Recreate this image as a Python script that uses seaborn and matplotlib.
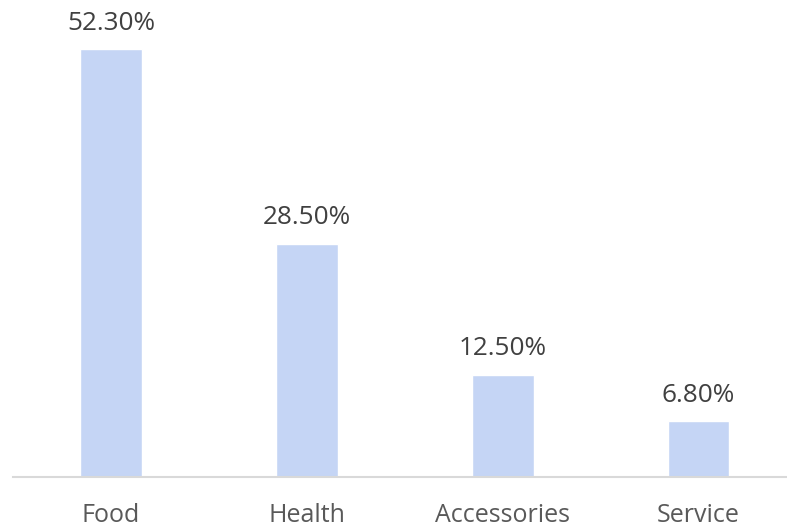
import matplotlib
matplotlib.use("Agg")
import matplotlib.pyplot as plt
import seaborn as sns
import pandas as pd

categories = ["Food", "Health", "Accessories", "Service"]
shares = [52.3, 28.5, 12.5, 6.8]
value_labels = ["52.30%", "28.50%", "12.50%", "6.80%"]

sns.set_theme(style="white")
plt.rcParams["font.family"] = ["Open Sans", "DejaVu Sans"]

df = pd.DataFrame({"category": categories, "share": shares})

fig = plt.figure(figsize=(7.87, 5.28), dpi=100)
W, H = 787, 528
ax = fig.add_axes([13 / W, (H - 477) / H, (796.5 - 13) / W, 477 / H])

sns.barplot(data=df, x="category", y="share", order=categories,
            color="#C5D5F5", saturation=1, width=0.315, ax=ax)

ax.set_xlim(-0.5, 3.5)
ax.set_ylim(0, 58.3)

for patch, txt in zip(ax.patches, value_labels):
    ax.annotate(txt, (patch.get_x() + patch.get_width() / 2, patch.get_height()),
                xytext=(0, 14), textcoords="offset points",
                ha="center", va="baseline", fontsize=18.8, color="#404040")

for side in ["left", "right", "top"]:
    ax.spines[side].set_visible(False)
ax.spines["bottom"].set_color("#D9D9D9")
ax.spines["bottom"].set_linewidth(1.5)

ax.set_yticks([])
ax.set_xlabel("")
ax.set_ylabel("")
ax.tick_params(axis="x", length=0, pad=19, labelsize=18, labelcolor="#595959")

fig.savefig("out.png", dpi=100)
